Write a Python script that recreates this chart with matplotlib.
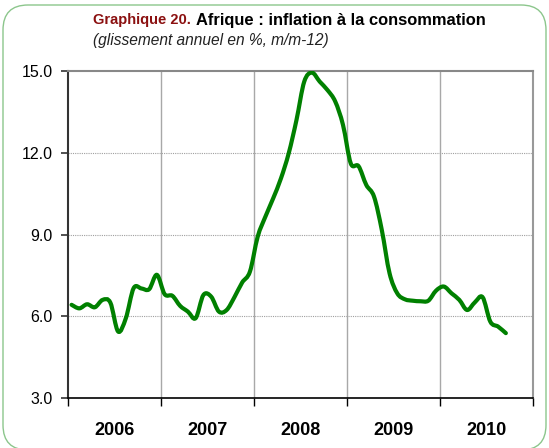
import matplotlib
matplotlib.use("Agg")
import matplotlib.pyplot as plt
from matplotlib.patches import FancyBboxPatch, PathPatch
from matplotlib.path import Path
from matplotlib.transforms import IdentityTransform
from matplotlib import font_manager
import numpy as np

plt.rcParams['font.family'] = ['Liberation Sans', 'DejaVu Sans']

# Monthly inflation, Jan 2006 - Sep 2010
inflation = [6.42, 6.29, 6.44, 6.33, 6.60, 6.50, 5.44, 5.93, 7.03, 7.02, 6.99, 7.52,
             6.81, 6.75, 6.38, 6.17, 5.93, 6.78, 6.72, 6.17, 6.23, 6.70, 7.24, 7.64,
             8.92, 9.66, 10.33, 11.06, 11.98, 13.20, 14.61, 14.94, 14.61, 14.30, 13.88, 13.02,
             11.61, 11.51, 10.82, 10.39, 9.17, 7.58, 6.84, 6.62, 6.57, 6.55, 6.57, 6.94,
             7.09, 6.84, 6.60, 6.23, 6.51, 6.70, 5.80, 5.62, 5.38]
years = ['2006', '2007', '2008', '2009', '2010']
yticks = [3.0, 6.0, 9.0, 12.0, 15.0]

W, H = 549, 448
fig = plt.figure(figsize=(W / 100, H / 100), dpi=100)

# rounded green frame (display coords, origin bottom-left)
R = 25
frame = FancyBboxPatch((3 + R, -2 + R), W - 6 - 2 * R, (H - 5 + 2) - 2 * R,
                       boxstyle=f"round,pad={R}", transform=IdentityTransform(),
                       facecolor='white', edgecolor='#8cc68c', linewidth=1.0, zorder=-5)
fig.patches.append(frame)

ax = fig.add_axes([67.7 / W, 1 - 398 / H, (533 - 67.7) / W, (398 - 71) / H])
ax.set_facecolor('none')
ax.set_zorder(2)

# smoothed line (Excel-style Catmull-Rom Bezier through the monthly points)
x = np.arange(len(inflation), dtype=float)
y = np.asarray(inflation, dtype=float)
pts = np.column_stack([x, y])
ext = np.vstack([pts[0], pts, pts[-1]])
verts = [tuple(pts[0])]
codes = [Path.MOVETO]
for i in range(len(pts) - 1):
    p0, p1, p2, p3 = ext[i], ext[i + 1], ext[i + 2], ext[i + 3]
    c1 = p1 + (p2 - p0) / 6.0
    c2 = p2 - (p3 - p1) / 6.0
    verts += [tuple(c1), tuple(c2), tuple(p2)]
    codes += [Path.CURVE4] * 3
line = PathPatch(Path(verts, codes), facecolor='none', edgecolor='#008000',
                 linewidth=3.0, joinstyle='round', capstyle='round', zorder=3,
                 transform=ax.transData)
ax.add_patch(line)

ax.set_ylim(3.0, 15.0)
ax.set_yticks(yticks)
ax.set_yticklabels([f"{v:.1f}" for v in yticks], fontsize=11.5)
n_years = len(years)
ax.set_xlim(-0.5, -0.5 + 12 * n_years)
bounds = [-0.5 + 12 * k for k in range(n_years + 1)]
ax.set_xticks(bounds)
ax.set_xticklabels([])
ax.set_xticks([5.5 + 12 * k for k in range(n_years)], minor=True)
narrow = [f for f in ['Liberation Sans Narrow', 'Liberation Sans']
          if any(f == e.name for e in font_manager.fontManager.ttflist)]
ax.set_xticklabels(years, minor=True, fontsize=13, fontweight='bold',
                   family=narrow + ['DejaVu Sans'])
ax.tick_params(axis='x', which='major', direction='out', length=6, width=1, color='black')
ax.tick_params(axis='x', which='minor', length=0, pad=17)
ax.tick_params(axis='y', direction='out', length=5, width=1.2, color='#333333', pad=6)

for yv in yticks[1:-1]:
    ax.axhline(yv, color='#a0a0a0', linewidth=0.8, linestyle=(0, (1, 1)), zorder=1)
for b in bounds[1:-1]:
    ax.axvline(b, color='#a8a8a8', linewidth=1.0, zorder=1)

ax.spines['left'].set_color('#333333')
ax.spines['left'].set_linewidth(1.5)
ax.spines['bottom'].set_color('black')
ax.spines['bottom'].set_linewidth(1.2)
ax.spines['top'].set_color('#888888')
ax.spines['top'].set_linewidth(1.5)
ax.spines['right'].set_color('#999999')
ax.spines['right'].set_linewidth(1.5)

fig.text(93 / W, 1 - 20 / H, "Graphique 20.", color='#8b1010', fontsize=10.5,
         fontweight='bold', ha='left', va='center')
fig.text(196 / W, 1 - 20 / H, "Afrique : inflation à la consommation", color='black',
         fontsize=11.9, fontweight='bold', ha='left', va='center')
fig.text(93 / W, 1 - 41 / H, "(glissement annuel en %, m/m-12)", color='#222222',
         fontsize=11.2, fontstyle='italic', ha='left', va='center')

fig.savefig("out.png", dpi=100)
